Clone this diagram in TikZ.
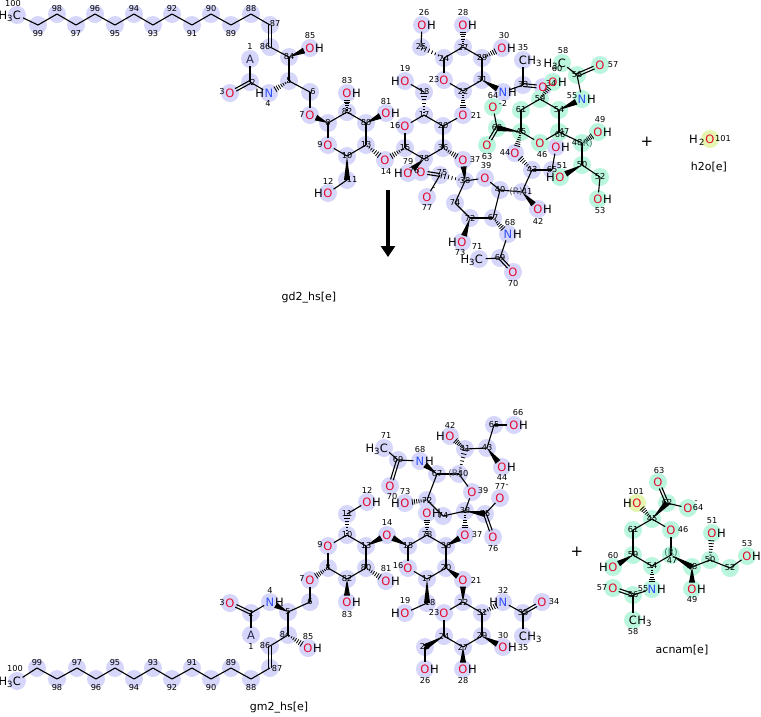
\documentclass[tikz,border=0pt]{standalone}
\usepackage{fontspec}
\setmainfont{DejaVu Sans}
\usetikzlibrary{calc,arrows.meta}
\pgfdeclarelayer{bg}
\pgfdeclarelayer{fg}
\pgfsetlayers{bg,main,fg}
\definecolor{lav}{RGB}{214,214,250}
\definecolor{mint}{RGB}{186,246,222}
\definecolor{yel}{RGB}{228,246,176}
\definecolor{ored}{RGB}{228,10,45}
\definecolor{nblue}{RGB}{48,80,248}
\definecolor{anavy}{RGB}{40,40,80}
\definecolor{rgray}{RGB}{80,80,100}
\definecolor{rteal}{RGB}{50,110,95}
\tikzset{
 num/.style={font=\fontsize{8.2}{8.2}\selectfont,inner sep=0pt},
 el/.style={font=\fontsize{11.5}{11.5}\selectfont,inner sep=0pt},
 rs/.style={font=\fontsize{9}{9}\selectfont,inner sep=0pt,text=rgray},
 rsm/.style={rs,text=rteal},
 bd/.style={line width=1.1pt},
 hx/.style={circle,minimum size=13pt,inner sep=0pt},
 nm/.style={font=\fontsize{11}{11}\selectfont,inner sep=0pt},
 pl/.style={font=\fontsize{15}{15}\selectfont,inner sep=0pt},
}
\newcommand\sbs[1]{\raisebox{-2.5pt}{\fontsize{8.5}{8.5}\selectfont #1}}
\newcommand\Ox{\textcolor{ored}{O}}
\newcommand\Nx{\textcolor{nblue}{N}}
\newcommand\Ax{\textcolor{anavy}{A}}
\newcommand\hN[1]{}
\newcommand\hR[1]{\node[el,anchor=base west] (#1h) at ([xshift=0.3pt]#1e.base east) {H};}
\newcommand\hL[1]{\node[el,anchor=base east] (#1h) at ([xshift=-0.3pt]#1e.base west) {H};}
\newcommand\hhL[1]{\node[el,anchor=base east] (#1h) at (#1e.base west) {H\sbs{3}};}
\newcommand\hhR[1]{\node[el,anchor=base west] (#1h) at (#1e.base east) {H\sbs{3}};}
\newcommand\hW[1]{\node[el,anchor=base east] (#1h) at ([xshift=-0.5pt]#1e.base west) {H\hspace{1.5pt}\sbs{2}};}
% carbon: [colour]{name}{x,y}{number}{dx,dy}
\newcommand\Ca[5][lav]{%
 \coordinate (#2) at (#3);
 \begin{pgfonlayer}{bg}\fill[#1] (#2) circle (9);\end{pgfonlayer}
 \begin{pgfonlayer}{fg}\node[num] (#2n) at ($(#2)+(#5)$) {#4};\end{pgfonlayer}}
% heteroatom: [colour]{name}{x,y}{element}{H macro}{number}{dx,dy}
\newcommand\Xa[7][lav]{%
 \node[hx] (#2) at (#3) {};
 \begin{pgfonlayer}{bg}\fill[#1] (#2.center) circle (9);\end{pgfonlayer}
 \begin{pgfonlayer}{fg}
  \node[el] (#2e) at (#2.center) {#4};
  #5{#2}%
  \node[num] (#2n) at ($(#2.center)+(#7)$) {#6};
 \end{pgfonlayer}}
% bold wedge
\newcommand\wb[3][0pt]{%
 \path ($(#3)!#1!(#2)$) coordinate (wE);
 \fill (#2) -- ($(wE)!3pt!90:(#2)$) -- ($(wE)!3pt!-90:(#2)$) -- cycle;}
% hashed wedge
\newcommand\wh[3][0pt]{%
 \path ($(#3)!#1!(#2)$) coordinate (wE);
 \foreach \t in {0.1,0.24,...,0.95}{%
  \pgfmathsetmacro\ww{0.4+2.8*\t}%
  \path ($(#2)!\t!(wE)$) coordinate (wT);
  \draw[line width=0.8pt] ($(wT)!\ww pt!90:(wE)$) -- ($(wT)!\ww pt!-90:(wE)$);}}
% double bond
\newcommand\db[4]{%
 \path ($(#1)!#3!(#2)$) coordinate (dA) ($(#2)!#4!(#1)$) coordinate (dB);
 \draw[bd] ($(dA)!1.4pt!90:(dB)$) -- ($(dB)!1.4pt!-90:(dA)$);
 \draw[bd] ($(dA)!1.4pt!-90:(dB)$) -- ($(dB)!1.4pt!90:(dA)$);}
\begin{document}
\begin{tikzpicture}[x=1pt,y=-1pt]
\useasboundingbox (0,0) rectangle (761,716);
%================ TOP: gd2_hs ================
\Xa{c100}{17,15}{C}{\hhL}{100}{-4,-11}
\Ca{c99}{38,25}{99}{0,9}
\Ca{c98}{57,14}{98}{0,-5}
\Ca{c97}{76,25}{97}{0,9}
\Ca{c96}{95,14}{96}{0,-5}
\Ca{c95}{115,25}{95}{0,9}
\Ca{c94}{134,14}{94}{0,-5}
\Ca{c93}{153,25}{93}{0,9}
\Ca{c92}{172,14}{92}{0,-5}
\Ca{c91}{192,25}{91}{0,9}
\Ca{c90}{211,14}{90}{0,-5}
\Ca{c89}{231,25}{89}{0,9}
\Ca{c88}{251,14}{88}{0,-5}
\Ca{c87}{270,25}{87}{5,-1}
\Ca{c86}{270,47}{86}{-5,0}
\Xa{a1}{250,59}{\Ax}{\hN}{1}{0,-12}
\Xa{o3}{230,93}{\Ox}{\hN}{3}{-8,-1}
\Xa{n4}{269,93}{\Nx}{\hL}{4}{-1,11}
\Xa{o7}{310,115}{\Ox}{\hN}{7}{-8,0}
\Xa{o9}{328,145}{\Ox}{\hN}{9}{-8,0}
\Xa{o12}{328,193}{\Ox}{\hL}{12}{0,-12}
\Xa{o14}{385,160}{\Ox}{\hN}{14}{1,12}
\Xa{o16}{405,126}{\Ox}{\hN}{16}{-10,0}
\Xa{o19}{405,81}{\Ox}{\hL}{19}{0,-12}
\Xa{o21}{463,115}{\Ox}{\hN}{21}{13,0}
\Xa{o23}{444,80}{\Ox}{\hN}{23}{-10,0}
\Xa{o26}{422,25}{\Ox}{\hR}{26}{2,-12}
\Xa{o28}{463,25}{\Ox}{\hR}{28}{0,-12}
\Xa{o30}{502,48}{\Ox}{\hR}{30}{2,-12}
\Xa{n32}{503,92}{\Nx}{\hR}{-2}{0,11}
\Xa{o34}{543,87}{\Ox}{\hN}{34}{8,-3}
\Xa{c35}{523,60}{C}{\hhR}{35}{0,-12}
\Xa{o37}{463,160}{\Ox}{\hN}{37}{12,0}
\Xa{o39}{485,178}{\Ox}{\hN}{39}{1,-12}
\Xa{o42}{538,209}{\Ox}{\hR}{42}{0,12}
\Xa{o44}{515,153}{\Ox}{\hN}{44}{-10,0}
\Xa{o66}{556,147}{\Ox}{\hR}{66}{4,-12}
\Xa{n68}{508,234}{\Nx}{\hR}{68}{2,-11}
\Xa{o70}{513,272}{\Ox}{\hN}{70}{0,12}
\Xa{c71}{479,259}{C}{\hhL}{71}{-2,-12}
\Xa{o73}{462,242}{\Ox}{\hL}{73}{-2,11}
\Xa{o76}{421,172}{\Ox}{\hN}{76}{-7,-1}
\Xa{o77}{427,197}{\Ox}{\hN}{77}{0,11}
\Xa{o79}{408,173}{\Ox}{\hL}{79}{0,-11}
\Xa{o81}{386,113}{\Ox}{\hR}{81}{0,-11}
\Xa{o83}{347,93}{\Ox}{\hR}{83}{0,-12}
\Xa{o85}{310,48}{\Ox}{\hR}{85}{0,-12}
\Ca{c2}{250,82}{2}{3,0}
\Ca{c5}{289,81}{5}{0,0}
\Ca{c6}{310,92}{6}{3,0}
\Ca{c8}{328,123}{8}{0,0}
\Ca{c10}{347,156}{10}{0,0}
\Ca{c11}{347,180}{11}{5,0}
\Ca{c13}{366,145}{13}{0,0}
\Ca{c15}{405,148}{15}{0,0}
\Ca{c17}{424,115}{17}{0,0}
\Ca{c18}{424,92}{18}{0,0}
\Ca{c20}{443,126}{20}{0,0}
\Ca{c22}{463,91}{22}{0,0}
\Ca{c24}{444,58}{24}{0,0}
\Ca{c25}{421,47}{25}{0,0}
\Ca{c27}{463,47}{27}{0,0}
\Ca{c29}{482,58}{29}{0,0}
\Ca{c31}{482,80}{31}{0,0}
\Ca{c33}{523,85}{33}{0,0}
\Ca{c36}{443,148}{36}{0,0}
\Ca{c38}{465,181}{38}{0,0}
\Ca{c40}{500,190}{40}{0,0}
\Ca{c41}{522,192}{41}{5,0}
\Ca{c43}{532,170}{43}{0,0}
\Ca{c65}{552,170}{65}{0,0}
\Ca{c67}{493,218}{67}{0,0}
\Ca{c69}{500,258}{69}{0,0}
\Ca{c72}{470,218}{72}{0,0}
\Ca{c74}{455,203}{74}{0,0}
\Ca{c75}{440,175}{75}{2,-2}
\Ca{c78}{424,159}{78}{0,0}
\Ca{c80}{366,123}{80}{0,0}
\Ca{c82}{347,112}{82}{0,0}
\Ca{c84}{289,57}{84}{0,0}
\Xa[mint]{o46}{540,143}{\Ox}{\hN}{46}{2,12}
\Xa[mint]{o49}{598,132}{\Ox}{\hR}{49}{2,-12}
\Xa[mint]{o51}{560,177}{\Ox}{\hL}{51}{2,-11}
\Xa[mint]{o53}{598,199}{\Ox}{\hR}{53}{2,12}
\Xa[mint]{n55}{582,99}{\Nx}{\hR}{55}{-10,-3}
\Xa[mint]{o57}{600,65}{\Ox}{\hN}{57}{13,0}
\Xa[mint]{c58}{562,63}{C}{\hhL}{58}{1,-12}
\Xa[mint]{o60}{553,82}{\Ox}{\hR}{60}{4,-13}
\Xa[mint]{o63}{487,145}{\Ox}{\hN}{63}{0,12}
\Xa[mint]{o64}{493,107}{\Ox}{\hN}{64}{0,-11}
\Ca[mint]{c45}{521,132}{45}{0,0}
\Ca[mint]{c47}{559,132}{47}{5,0}
\Ca[mint]{c48}{582,143}{48}{-5,0}
\Ca[mint]{c50}{582,165}{50}{0,0}
\Ca[mint]{c52}{600,177}{52}{0,0}
\Ca[mint]{c54}{559,110}{54}{0,0}
\Ca[mint]{c56}{577,75}{56}{0,0}
\Ca[mint]{c59}{540,99}{59}{0,0}
\Ca[mint]{c61}{521,110}{61}{0,0}
\Ca[mint]{c62}{497,128}{62}{0,0}
\begin{pgfonlayer}{fg}
\node[rs] (c41r) at (516,192) {(R)};
\node[rsm] (c48r) at (586,144) {(R)};
\node[num] (o77c) at (434,189) {-};
\end{pgfonlayer}
\foreach \a/\b in {c100/c99,c99/c98,c98/c97,c97/c96,c96/c95,c95/c94,c94/c93,c93/c92,c92/c91,c91/c90,c90/c89,c89/c88,c88/c87,
 c86/c84,c84/c5,n4/c2,c2/a1,c5/c6,c6/o7,c8/c82,c82/c80,c80/c13,c13/c10,c10/o9,o9/c8,c11/o12,
 c15/o16,o16/c17,c17/c20,c20/c36,c36/c78,c78/c15,c18/o19,c20/o21,c22/o23,o23/c24,c24/c27,c27/c29,c29/c31,c31/c22,
 c25/o26,n32/c33,c33/c35,c38/o39,o39/c40,c40/c67,c67/c72,c72/c74,c74/c38,n68/c69,c69/c71,c40/c41,c41/c43,c43/c65,c65/o66,c75/o77,
 c45/c61,c61/c59,c59/c54,c54/c47,c47/o46,o46/c45,c62/o64,n55/c56,c56/c58,c47/c48,c48/c50,c50/c52,c52/o53}
 {\draw[bd] (\a) -- (\b);}
\db{c87}{c86}{0pt}{0pt}
\db{c2}{o3}{0pt}{6.5pt}
\db{c33}{o34}{0pt}{6.5pt}
\db{c56}{o57}{0pt}{6.5pt}
\db{c62}{o63}{0pt}{6.5pt}
\db{c75}{o76}{0pt}{6.5pt}
\db{c69}{o70}{0pt}{6.5pt}
\wb[6.5pt]{c84}{o85}
\wb[6.5pt]{c8}{o7}
\wb[6.5pt]{c80}{o81}
\wb{c10}{c11}
\wb[6.5pt]{c38}{o37}
\wb[6.5pt]{c78}{o79}
\wb[6.5pt]{c31}{n32}
\wb[6.5pt]{c72}{o73}
\wb[6.5pt]{c41}{o42}
\wb{c45}{c62}
\wb[6.5pt]{c54}{n55}
\wb[6.5pt]{c50}{o51}
\wh[6.5pt]{c5}{n4}
\wh[6.5pt]{c82}{o83}
\wh[6.5pt]{c13}{o14}
\wh[6.5pt]{c15}{o14}
\wh{c17}{c18}
\wh[6.5pt]{c22}{o21}
\wh[6.5pt]{c36}{o37}
\wh{c38}{c75}
\wh{c24}{c25}
\wh[6.5pt]{c27}{o28}
\wh[6.5pt]{c29}{o30}
\wh[6.5pt]{c67}{n68}
\wh[6.5pt]{c43}{o44}
\wh[6.5pt]{c45}{o44}
\wh[6.5pt]{c59}{o60}
\wh[6.5pt]{c48}{o49}
%================ water ================
\Xa[yel]{w101}{710,139}{\Ox}{\hW}{101}{13,0}
\node[pl] (P1) at (647,142) {+};
\node[nm] (L2) at (709,167) {h2o[e]};
\node[nm] (L1) at (309,298) {gd2\_hs[e]};
\coordinate (ar1) at (388,190);
\coordinate (ar2) at (388,257);
\draw[line width=3.6pt,-{Triangle[width=14pt,length=11pt]}] (ar1) -- (ar2);
%================ BOTTOM: gm2_hs ================
\Xa{b100}{17,681}{C}{\hhL}{100}{-2,-12}
\Ca{b99}{37,668}{99}{0,-5}
\Ca{b98}{57,679}{98}{0,9}
\Ca{b97}{77,668}{97}{0,-5}
\Ca{b96}{96,679}{96}{0,9}
\Ca{b95}{115,668}{95}{0,-5}
\Ca{b94}{134,679}{94}{0,9}
\Ca{b93}{153,668}{93}{0,-5}
\Ca{b92}{172,679}{92}{0,9}
\Ca{b91}{192,668}{91}{0,-5}
\Ca{b90}{211,679}{90}{0,9}
\Ca{b89}{231,668}{89}{0,-5}
\Ca{b88}{251,679}{88}{0,9}
\Ca{b87}{270,668}{87}{7,1}
\Ca{b86}{270,646}{86}{-5,0}
\Xa{b1}{251,635}{\Ax}{\hN}{1}{0,12}
\Xa{b3}{230,603}{\Ox}{\hN}{3}{-8,0}
\Xa{b4}{270,602}{\Nx}{\hR}{4}{0,-11}
\Xa{b7}{310,580}{\Ox}{\hN}{7}{-8,-1}
\Xa{b9}{328,546}{\Ox}{\hN}{9}{-8,-1}
\Xa{b12}{367,502}{\Ox}{\hR}{12}{0,-12}
\Xa{b14}{387,535}{\Ox}{\hN}{14}{0,-12}
\Xa{b16}{408,568}{\Ox}{\hN}{16}{-10,-2}
\Xa{b19}{405,613}{\Ox}{\hL}{19}{0,-12}
\Xa{b21}{463,580}{\Ox}{\hN}{21}{13,0}
\Xa{b23}{444,613}{\Ox}{\hN}{23}{-10,0}
\Xa{b26}{425,669}{\Ox}{\hR}{26}{0,12}
\Xa{b28}{463,669}{\Ox}{\hR}{28}{0,12}
\Xa{b30}{503,647}{\Ox}{\hR}{30}{0,-11}
\Xa{b32}{503,602}{\Nx}{\hL}{32}{0,-11}
\Xa{b34}{542,602}{\Ox}{\hN}{34}{12,0}
\Xa{b35}{523,636}{C}{\hhR}{35}{0,12}
\Xa{b37}{465,535}{\Ox}{\hN}{37}{12,0}
\Xa{b39}{472,492}{\Ox}{\hN}{39}{11,-1}
\Xa{b42}{450,436}{\Ox}{\hL}{42}{0,-11}
\Xa{b44}{502,467}{\Ox}{\hR}{44}{0,11}
\Xa{b66}{514,425}{\Ox}{\hR}{66}{4,-12}
\Xa{b68}{420,461}{\Nx}{\hR}{68}{0,-11}
\Xa{b70}{390,486}{\Ox}{\hN}{70}{2,11}
\Xa{b71}{384,448}{C}{\hhL}{71}{2,-12}
\Xa{b73}{405,503}{\Ox}{\hL}{73}{0,-11}
\Xa{b76}{493,537}{\Ox}{\hN}{76}{0,12}
\Xa{b77}{500,498}{\Ox}{\hN}{77}{0,-11}
\Xa{b79}{427,513}{\Ox}{\hR}{}{0,0}
\Xa{b81}{386,581}{\Ox}{\hR}{81}{0,-12}
\Xa{b83}{347,602}{\Ox}{\hR}{83}{0,13}
\Xa{b85}{308,648}{\Ox}{\hR}{85}{0,-11}
\Ca{b2}{251,613}{2}{0,0}
\Ca{b5}{288,612}{5}{0,0}
\Ca{b6}{310,602}{6}{0,0}
\Ca{b8}{328,568}{8}{0,0}
\Ca{b10}{347,535}{10}{0,0}
\Ca{b11}{347,514}{11}{0,0}
\Ca{b13}{366,546}{13}{0,0}
\Ca{b15}{408,546}{15}{0,0}
\Ca{b17}{427,579}{17}{0,0}
\Ca{b18}{427,603}{18}{3,0}
\Ca{b20}{446,568}{20}{0,0}
\Ca{b22}{463,602}{22}{0,0}
\Ca{b24}{444,636}{24}{0,0}
\Ca{b25}{425,647}{25}{0,0}
\Ca{b27}{463,647}{27}{0,0}
\Ca{b29}{482,636}{29}{0,0}
\Ca{b31}{482,613}{31}{0,0}
\Ca{b33}{523,613}{33}{0,0}
\Ca{b36}{446,546}{36}{0,0}
\Ca{b38}{465,511}{38}{0,0}
\Ca{b40}{459,474}{40}{4,0}
\Ca{b41}{465,449}{41}{0,0}
\Ca{b43}{487,448}{43}{0,0}
\Ca{b65}{494,425}{65}{0,0}
\Ca{b67}{437,474}{67}{0,0}
\Ca{b69}{398,460}{69}{0,0}
\Ca{b72}{427,500}{72}{0,0}
\Ca{b74}{443,516}{74}{0,0}
\Ca{b75}{485,514}{75}{0,0}
\Ca{b78}{427,535}{78}{0,0}
\Ca{b80}{366,568}{80}{0,0}
\Ca{b82}{347,579}{82}{0,0}
\Ca{b84}{288,635}{84}{-3,0}
\begin{pgfonlayer}{fg}
\node[rs] (b40r) at (455,474) {(R)};
\node[num] (b77c) at (507,486) {-};
\end{pgfonlayer}
\foreach \a/\b in {b100/b99,b99/b98,b98/b97,b97/b96,b96/b95,b95/b94,b94/b93,b93/b92,b92/b91,b91/b90,b90/b89,b89/b88,b88/b87,
 b86/b84,b84/b5,b4/b2,b2/b1,b5/b6,b6/b7,b8/b9,b9/b10,b10/b13,b13/b80,b80/b82,b82/b8,b11/b12,
 b15/b78,b78/b36,b36/b20,b20/b17,b17/b16,b16/b15,b18/b19,b22/b23,b23/b24,b24/b27,b27/b29,b29/b31,b31/b22,
 b25/b26,b32/b33,b33/b35,b38/b39,b39/b40,b40/b67,b67/b72,b72/b74,b74/b38,b75/b77,b41/b43,b43/b65,b65/b66,b68/b69,b69/b71}
 {\draw[bd] (\a) -- (\b);}
\db{b87}{b86}{0pt}{0pt}
\db{b2}{b3}{0pt}{6.5pt}
\db{b33}{b34}{0pt}{6.5pt}
\db{b75}{b76}{0pt}{6.5pt}
\db{b69}{b70}{0pt}{6.5pt}
\wb[6.5pt]{b5}{b4}
\wb[6.5pt]{b13}{b14}
\wb[6.5pt]{b15}{b14}
\wb[6.5pt]{b82}{b83}
\wb{b17}{b18}
\wb[6.5pt]{b20}{b21}
\wb[6.5pt]{b22}{b21}
\wb[6.5pt]{b36}{b37}
\wb{b24}{b25}
\wb[6.5pt]{b27}{b28}
\wb[6.5pt]{b29}{b30}
\wb{b38}{b75}
\wb[6.5pt]{b43}{b44}
\wb[6.5pt]{b67}{b68}
\wh[6.5pt]{b84}{b85}
\wh[6.5pt]{b8}{b7}
\wh{b10}{b11}
\wh[6.5pt]{b80}{b81}
\wh[6.5pt]{b78}{b79}
\wh[6.5pt]{b38}{b37}
\wh[6.5pt]{b31}{b32}
\wh{b40}{b41}
\wh[6.5pt]{b41}{b42}
\wh[6.5pt]{b72}{b73}
\node[nm] (L3) at (279,708) {gm2\_hs[e]};
%================ acnam ================
\Xa[mint]{x46}{671,530}{\Ox}{\hN}{46}{12,0}
\Xa[mint]{x49}{692,589}{\Ox}{\hR}{49}{0,11}
\Xa[mint]{x51}{712,533}{\Ox}{\hR}{51}{0,-12}
\Xa[mint]{x53}{747,556}{\Ox}{\hR}{53}{0,-12}
\Xa[mint]{x55}{652,589}{\Nx}{\hR}{55}{-9,0}
\Xa[mint]{x57}{613,588}{\Ox}{\hN}{57}{-11,0}
\Xa[mint]{x58}{633,620}{C}{\hhR}{58}{0,12}
\Xa[mint]{x60}{613,567}{\Ox}{\hL}{60}{0,-11}
\Xa[mint]{x63}{658,482}{\Ox}{\hN}{63}{1,-11}
\Xa[mint]{x64}{688,508}{\Ox}{\hN}{64}{10,0}
\Xa[yel]{x101}{637,503}{\Ox}{\hL}{101}{-1,-11}
\Ca[mint]{x45}{652,519}{45}{0,0}
\Ca[mint]{x61}{633,530}{61}{0,0}
\Ca[mint]{x59}{633,555}{59}{0,0}
\Ca[mint]{x47}{671,555}{47}{1,6}
\Ca[mint]{x54}{652,566}{54}{0,0}
\Ca[mint]{x62}{667,503}{62}{0,0}
\Ca[mint]{x48}{692,567}{48}{0,0}
\Ca[mint]{x50}{710,560}{50}{0,0}
\Ca[mint]{x52}{730,568}{52}{0,0}
\Ca[mint]{x56}{633,595}{56}{0,0}
\begin{pgfonlayer}{fg}
\node[rsm] (x47r) at (671,553) {(R)};
\node[num] (x64c) at (696,502) {-};
\end{pgfonlayer}
\foreach \a/\b in {x45/x61,x61/x59,x59/x54,x54/x47,x47/x46,x46/x45,x62/x64,x55/x56,x56/x58,x48/x50,x50/x52,x52/x53}
 {\draw[bd] (\a) -- (\b);}
\db{x62}{x63}{0pt}{6.5pt}
\db{x56}{x57}{0pt}{6.5pt}
\wb{x45}{x62}
\wb[6.5pt]{x59}{x60}
\wb{x47}{x48}
\wb[6.5pt]{x48}{x49}
\wh[6.5pt]{x45}{x101}
\wh[6.5pt]{x54}{x55}
\wh[6.5pt]{x50}{x51}
\node[pl] (P2) at (577,552) {+};
\node[nm] (L4) at (682,650) {acnam[e]};
\end{tikzpicture}
\end{document}
